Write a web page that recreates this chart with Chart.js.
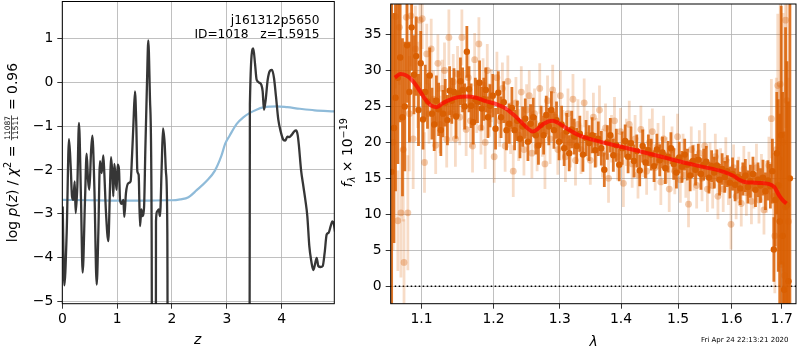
<!DOCTYPE html>
<html>
<head>
<meta charset="utf-8">
<script src="https://cdn.jsdelivr.net/npm/chart.js@4.4.0/dist/chart.umd.min.js"></script>
<style>
  html, body { margin: 0; padding: 0; background: #fff; }
  #wrap { position: relative; width: 800px; height: 350px; }
  canvas { position: absolute; top: 0; }
  #pz { left: 0; }
  #spec { left: 330px; }
</style>
</head>
<body>
<div id="wrap">
  <canvas id="pz" width="340" height="350"></canvas>
  <canvas id="spec" width="470" height="350"></canvas>
</div>
<script>
// ---- left panel: log p(z) and prior ----
const PZ_Z = [
  0.007, 0.037, 0.080, 0.122, 0.153, 0.177, 0.201, 0.226, 0.244, 0.274,
  0.304, 0.341, 0.371, 0.414, 0.444, 0.469, 0.493, 0.523, 0.548, 0.584,
  0.627, 0.657, 0.687, 0.718, 0.748, 0.766, 0.797, 0.839, 0.870, 0.888,
  0.912, 0.930, 0.949, 0.973, 0.991, 1.009, 1.034, 1.052, 1.082, 1.113,
  1.131, 1.161, 1.204, 1.246, 1.271, 1.295, 1.325, 1.350, 1.368, 1.392,
  1.417, 1.441, 1.459, 1.490, 1.514, 1.544, 1.568, 1.599, 1.629, 1.660,
  1.690, 1.708, 1.733, 1.757, 1.781, 1.812, 1.836, 1.866, 1.891, 1.915,
  1.945, 2.600, 3.390, 3.420, 3.482, 3.513, 3.544, 3.592, 3.629, 3.653,
  3.677, 3.708, 3.744, 3.787, 3.823, 3.860, 3.896, 3.939, 3.981, 4.030,
  4.066, 4.103, 4.139, 4.182, 4.230, 4.261, 4.291, 4.315, 4.352, 4.395,
  4.431, 4.467, 4.504, 4.540, 4.577, 4.607, 4.638, 4.668, 4.710, 4.747,
  4.783, 4.820, 4.856, 4.893, 4.923, 4.947, 4.972
];
const PZ_LOGP = [
  -2.83, -4.63, -3.43, -1.30, -1.92, -2.60, -2.68, -2.26, -2.98, -2.37,
  -0.93, -2.68, -4.34, -2.68, -1.63, -2.22, -2.45, -1.61, -1.22, -2.37,
  -4.61, -3.43, -1.80, -2.07, -1.67, -2.07, -2.98, -3.62, -2.37, -1.71,
  -2.07, -2.60, -1.86, -2.22, -2.45, -1.88, -1.99, -2.68, -2.77, -2.68,
  -3.07, -2.52, -2.30, -2.26, -1.69, -1.01, -0.21, -1.01, -2.03, -2.11,
  -3.28, -2.90, -3.05, -2.86, -1.54, -0.02, 0.95, -0.40, -3.43, -30,
  -30, -3.17, -2.94, -2.90, -3.05, -1.92, -1.05, -1.39, -2.07, -3.43,
  -30, -30, -30, -0.50, 0.77, 0.43, 0.05, -0.01, -0.06, -0.21,
  -0.63, -0.40, 0.05, 0.26, 0.28, 0.09, -0.33, -0.86, -1.12, -1.31,
  -1.33, -1.24, -1.25, -1.20, -1.12, -1.10, -1.20, -1.46, -1.99, -2.37,
  -2.68, -3.05, -3.74, -4.08, -4.28, -4.15, -4.00, -4.19, -4.21, -4.19,
  -3.89, -3.47, -3.43, -3.28, -3.17, -3.21, -3.40
];
const PRIOR_Z = [
  0, 0.5, 1.0, 1.5, 1.9, 2.0, 2.15, 2.3, 2.45, 2.63, 2.78, 2.9, 2.97,
  3.05, 3.18, 3.3, 3.42, 3.55, 3.66, 3.8, 3.91, 4.1, 4.33, 4.6, 4.96
];
const PRIOR_LOGP = [
  -2.68, -2.69, -2.70, -2.70, -2.69, -2.69, -2.67, -2.62, -2.46, -2.25, -2.02, -1.68, -1.40,
  -1.22, -0.95, -0.80, -0.70, -0.62, -0.575, -0.555, -0.55, -0.57, -0.605, -0.64, -0.665
];
const Z_TICKS = [0, 1, 2, 3, 4];
const LOGP_TICKS = [-5, -4, -3, -2, -1, 0, 1];

// ---- right panel: spectrum ----
const LAM_TICKS = [1.1, 1.2, 1.3, 1.4, 1.5, 1.6, 1.7];
const FLUX_TICKS = [0, 5, 10, 15, 20, 25, 30, 35];
const LAM_MIN = 1.0598;
const LAM_MAX = 1.7297;

const LAM_DARK = [
  1.061, 1.064, 1.066, 1.069, 1.072, 1.075, 1.078, 1.081, 1.084, 1.087, 1.090, 1.093, 1.096, 1.099,
  1.102, 1.105, 1.108, 1.111, 1.114, 1.117, 1.120, 1.123, 1.126, 1.129,
  1.132, 1.135, 1.138, 1.141, 1.144, 1.147, 1.150, 1.153, 1.156, 1.159,
  1.162, 1.165, 1.168, 1.171, 1.174, 1.177, 1.180, 1.183, 1.186, 1.189,
  1.192, 1.195,
  1.199, 1.203, 1.207, 1.211, 1.215, 1.219, 1.223, 1.227, 1.231, 1.235, 1.239, 1.243, 1.247,
  1.251, 1.255, 1.259, 1.263, 1.267, 1.271, 1.275, 1.279, 1.283, 1.287,
  1.291, 1.295, 1.299, 1.303, 1.307, 1.311, 1.315, 1.319, 1.323, 1.327,
  1.332, 1.337, 1.342, 1.347, 1.352, 1.357, 1.362, 1.367, 1.372, 1.377,
  1.382, 1.387, 1.392, 1.397, 1.402, 1.407, 1.412, 1.417, 1.422, 1.427,
  1.432, 1.437, 1.442, 1.447,
  1.452, 1.457, 1.462, 1.467, 1.472, 1.477, 1.482, 1.487, 1.492, 1.497,
  1.502, 1.507, 1.512, 1.517, 1.522, 1.527, 1.532, 1.537, 1.542, 1.547,
  1.552, 1.557, 1.562, 1.567, 1.572, 1.577, 1.582, 1.587, 1.592, 1.597,
  1.602, 1.607, 1.612, 1.617, 1.622, 1.627, 1.632, 1.637, 1.642, 1.647,
  1.652, 1.657, 1.662, 1.667, 1.672, 1.677,
  1.681, 1.684, 1.687, 1.690, 1.693, 1.696, 1.699, 1.702, 1.705, 1.708, 1.711, 1.714, 1.717
];
const FLUX_DARK = [
  15.9, 22.0, 26.2, 29.0, 31.8, 23.5, 25.0, 33.5, 27.0, 36.0, 29.4, 32.0, 24.5, 31.0,
  23.2, 27.0, 25.7, 29.3, 24.0, 22.5, 25.8, 24.6, 21.7, 24.0,
  25.5, 23.1, 27.2, 25.8, 27.0, 23.6, 26.8, 28.5, 27.3, 25.0,
  32.6, 27.4, 25.1, 22.8, 26.0, 25.7, 28.3, 24.7, 26.0, 27.3,
  23.5, 25.1,
  26.5, 21.9, 26.9, 23.5, 25.6, 21.7, 22.6, 24.8, 21.7, 23.0, 20.5, 22.2, 23.3,
  20.1, 22.6, 23.5, 21.0, 19.6, 22.4, 21.0, 23.8, 22.2, 24.5,
  21.7, 23.1, 20.1, 22.5, 19.2, 21.5, 18.5, 21.8, 20.8, 19.5,
  21.2, 18.3, 20.6, 19.9, 21.0, 18.9, 20.5, 19.2, 16.2, 20.0,
  21.0, 18.2, 19.6, 16.9, 19.2, 20.2, 18.0, 19.9, 17.4, 18.8,
  16.1, 19.5, 17.2, 18.9,
  18.3, 16.7, 19.0, 17.5, 18.6, 16.4, 18.0, 19.2, 17.0, 15.8,
  17.9, 16.6, 18.3, 16.9, 15.4, 17.4, 16.2, 17.6, 15.6, 16.9,
  17.3, 15.1, 16.7, 15.8, 16.8, 14.8, 16.3, 15.2, 16.0, 14.4,
  15.6, 14.1, 15.2, 13.6, 14.9, 15.4, 13.8, 14.6, 15.6, 13.4,
  14.8, 14.0, 15.1, 13.2, 14.7, 13.9,
  16.0, 5.1, 12.0, 18.5, 14.0, 9.0, 21.0, 7.0, -0.5, 11.0, 11.3, 0.7, 15.0
];
const ERR_DARK = [
  24, 16, 13, 12, 9, 11, 9, 8, 7, 6, 5.5, 5.5, 5, 4.5,
  4.2, 3.8, 3.8, 3.9, 3.6, 3.7, 3.5, 3.7, 3.6, 3.3,
  3.3, 3.5, 3.4, 3.2, 3.3, 3.1, 3.2, 3.3, 3.1, 3.2,
  3.6, 3.2, 3.1, 3.1, 3.0, 3.0, 3.1, 3.0, 3.0, 3.1,
  2.9, 3.0,
  3.0, 2.9, 3.0, 2.9, 2.9, 2.8, 2.8, 2.9, 2.8, 2.8, 2.7, 2.8, 2.8,
  2.7, 2.7, 2.7, 2.7, 2.7, 2.7, 2.7, 2.7, 2.6, 2.6,
  2.6, 2.6, 2.6, 2.6, 2.5, 2.6, 2.5, 2.6, 2.5, 2.5,
  2.5, 2.4, 2.5, 2.5, 2.5, 2.4, 2.4, 2.4, 2.4, 2.4,
  2.4, 2.3, 2.3, 2.3, 2.3, 2.3, 2.3, 2.3, 2.3, 2.3,
  2.2, 2.3, 2.2, 2.2,
  2.2, 2.2, 2.2, 2.2, 2.2, 2.2, 2.2, 2.2, 2.2, 2.2,
  2.2, 2.2, 2.2, 2.2, 2.2, 2.2, 2.2, 2.2, 2.2, 2.2,
  2.2, 2.2, 2.2, 2.2, 2.2, 2.2, 2.2, 2.2, 2.2, 2.2,
  2.3, 2.3, 2.3, 2.3, 2.3, 2.3, 2.3, 2.3, 2.4, 2.4,
  2.4, 2.4, 2.5, 2.6, 2.8, 3.1,
  4.5, 4.5, 6.5, 8.5, 12, 15, 18, 20, 22, 25, 20, 25, 30
];

const LAM_LIGHT = [
  1.063, 1.066, 1.069, 1.071, 1.073, 1.076, 1.077, 1.080, 1.082, 1.084, 1.086, 1.089, 1.092, 1.095, 1.098,
  1.101, 1.104, 1.107, 1.110, 1.113, 1.116, 1.119, 1.122, 1.125, 1.128,
  1.131, 1.134, 1.137, 1.140, 1.143, 1.146, 1.149, 1.152, 1.155, 1.158,
  1.161, 1.164, 1.167, 1.170, 1.173, 1.176, 1.179, 1.182, 1.185, 1.188,
  1.191, 1.194, 1.197,
  1.201, 1.205, 1.209, 1.213, 1.217, 1.221, 1.225, 1.229, 1.233, 1.237, 1.241, 1.245, 1.249,
  1.253, 1.257, 1.261, 1.265, 1.269, 1.273, 1.277, 1.281, 1.285, 1.289,
  1.293, 1.297, 1.301, 1.305, 1.309, 1.313, 1.317, 1.321, 1.325, 1.329,
  1.334, 1.339, 1.344, 1.349, 1.354, 1.359, 1.364, 1.369, 1.374, 1.379,
  1.384, 1.389, 1.394, 1.399, 1.404, 1.409, 1.414, 1.419, 1.424, 1.429,
  1.434, 1.439, 1.444, 1.449,
  1.454, 1.459, 1.464, 1.469, 1.474, 1.479, 1.484, 1.489, 1.494, 1.499,
  1.504, 1.509, 1.514, 1.519, 1.524, 1.529, 1.534, 1.539, 1.544, 1.549,
  1.554, 1.559, 1.564, 1.569, 1.574, 1.579, 1.584, 1.589, 1.594, 1.599,
  1.604, 1.609, 1.614, 1.619, 1.624, 1.629, 1.634, 1.639, 1.644, 1.649,
  1.654, 1.659, 1.664, 1.669, 1.674, 1.679,
  1.683, 1.686, 1.689, 1.692, 1.695, 1.697, 1.700, 1.703, 1.706, 1.708, 1.711, 1.714
];
const FLUX_LIGHT = [
  20.0, 37.5, 9.1, 36.0, 10.2, 19.0, 3.3, 37.4, 10.2, 24.0, 37.6, 20.5, 33.0, 28.0, 37.0,
  37.2, 17.2, 32.3, 24.0, 33.0, 26.0, 19.6, 31.0, 22.5, 27.5,
  30.0, 20.4, 34.6, 24.0, 28.4, 20.5, 29.5, 23.5, 34.6, 26.0,
  21.8, 29.0, 23.0, 19.5, 31.5, 25.0, 33.7, 22.0, 28.0, 20.0,
  30.0, 24.5, 26.5,
  18.0, 29.0, 23.0, 27.5, 19.5, 28.5, 22.0, 16.0, 25.5, 21.0, 27.0, 19.0, 24.5,
  26.5, 18.5, 24.0, 19.5, 27.5, 21.5, 17.0, 25.8, 20.5, 27.3,
  23.5, 19.0, 26.5, 21.0, 18.0, 24.0, 20.0, 26.0, 17.5, 22.5,
  19.0, 25.5, 21.0, 17.5, 23.5, 20.0, 24.5, 18.5, 22.0, 15.0,
  20.5, 23.0, 18.0, 21.5, 14.3, 20.0, 22.5, 17.0, 20.5, 15.5,
  21.8, 18.5, 16.0, 20.0,
  21.5, 16.5, 19.5, 14.5, 20.5, 17.5, 13.5, 19.0, 16.0, 20.8,
  14.8, 18.0, 15.5, 11.4, 19.0, 16.5, 14.0, 18.5, 15.0, 19.5,
  13.5, 16.8, 14.0, 18.0, 12.5, 16.0, 13.5, 17.5, 14.5, 8.6,
  16.5, 12.5, 14.8, 11.5, 16.3, 13.0, 15.5, 11.8, 14.0, 16.5,
  12.0, 15.0, 10.6, 13.8, 16.8, 23.3,
  12.5, 7.0, 19.0, 27.9, 14.0, 28.1, 3.0, 20.0, 1.5, 37.0, 25.8, 9.0
];
const ERR_LIGHT = [
  15, 10, 7, 8, 9, 10, 6, 8, 8, 8, 7, 7, 6, 6, 6,
  4.2, 4.2, 4.2, 4.2, 4.2, 4.0, 4.0, 4.0, 4.0, 4.0,
  3.9, 3.9, 3.9, 3.9, 3.9, 3.9, 3.9, 3.9, 3.9, 3.9,
  3.7, 3.7, 3.7, 3.7, 3.7, 3.7, 3.7, 3.7, 3.7, 3.7,
  3.7, 3.7, 3.7,
  3.6, 3.6, 3.6, 3.6, 3.6, 3.6, 3.6, 3.6, 3.6, 3.6, 3.6, 3.6, 3.6,
  3.5, 3.5, 3.5, 3.5, 3.5, 3.5, 3.5, 3.5, 3.5, 3.5,
  3.5, 3.5, 3.5, 3.5, 3.5, 3.5, 3.5, 3.5, 3.5, 3.5,
  3.4, 3.4, 3.4, 3.4, 3.4, 3.4, 3.4, 3.4, 3.4, 3.4,
  3.3, 3.3, 3.3, 3.3, 3.3, 3.3, 3.3, 3.3, 3.3, 3.3,
  3.3, 3.3, 3.3, 3.3,
  3.2, 3.2, 3.2, 3.2, 3.2, 3.2, 3.2, 3.2, 3.2, 3.2,
  3.2, 3.2, 3.2, 3.2, 3.2, 3.2, 3.2, 3.2, 3.2, 3.2,
  3.2, 3.2, 3.2, 3.2, 3.2, 3.2, 3.2, 3.2, 3.2, 3.5,
  3.2, 3.2, 3.2, 3.2, 3.2, 3.2, 3.2, 3.2, 3.2, 3.3,
  3.3, 3.4, 3.4, 3.6, 4.0, 5.5,
  6, 8, 10, 10, 14, 12, 15, 18, 18, 15, 18, 20
];

const MODEL_LAM = [
  1.065, 1.072, 1.080, 1.088, 1.095, 1.105, 1.113, 1.120, 1.128, 1.138,
  1.150, 1.162, 1.175, 1.190, 1.205, 1.218, 1.230, 1.240, 1.250, 1.258,
  1.265, 1.275, 1.288, 1.298, 1.310, 1.330, 1.360, 1.400, 1.435, 1.470,
  1.505, 1.545, 1.580, 1.605, 1.615, 1.628, 1.645, 1.660, 1.675, 1.685,
  1.695, 1.703, 1.710
];
const MODEL_FLUX = [
  29.0, 29.5, 29.3, 28.6, 27.6, 26.0, 25.1, 24.9, 25.4, 25.9,
  26.3, 26.4, 26.2, 25.7, 25.3, 24.7, 23.8, 22.9, 22.0, 21.5,
  21.8, 22.6, 23.0, 22.7, 22.0, 21.0, 20.2, 19.4, 18.7, 18.0,
  17.3, 16.6, 16.0, 15.3, 14.8, 14.45, 14.4, 14.35, 14.2, 13.8,
  12.6, 11.9, 11.5
];

// ---- shared styling ----
const FONT = '"DejaVu Sans", sans-serif';
Chart.defaults.font.family = FONT;
Chart.defaults.font.size = 13.9;
Chart.defaults.color = "#000";

const GRID = { color: "#b0b0b0", lineWidth: 0.8, tickColor: "#000", tickLength: 5, tickWidth: 0.8 };
const ORANGE = "#d95f02";

const points = (xs, ys) => xs.map((x, i) => ({ x, y: ys[i] }));
const fixedTicks = (vals) => (scale) => { scale.ticks = vals.map((v) => ({ value: v })); };
const fitY = (w) => (scale) => { scale.width = w; scale.paddingTop = 0; scale.paddingBottom = 0; };
const fitX = (h) => (scale) => { scale.height = h; scale.paddingLeft = 0; scale.paddingRight = 0; };
const minus = (v) => (v < 0 ? "\u2212" + Math.abs(v) : String(v));
const font = (size, italic) => `${italic ? "italic " : ""}${size}px ${FONT}`;

// text runs with sub/superscripts and a stacked fraction
function runWidth(ctx, parts) {
  let w = 0;
  for (const p of parts) {
    ctx.font = font(p.size, p.italic);
    w += p.num
      ? Math.max(ctx.measureText(p.num).width, ctx.measureText(p.den).width) + 3
      : ctx.measureText(p.t).width;
  }
  return w;
}

function drawVertical(ctx, parts, cx, cy) {
  ctx.save();
  ctx.translate(cx, cy);
  ctx.rotate(-Math.PI / 2);
  ctx.fillStyle = "#000";
  ctx.textBaseline = "alphabetic";
  let x = -runWidth(ctx, parts) / 2;
  for (const p of parts) {
    ctx.font = font(p.size, p.italic);
    if (p.num) {
      const w = Math.max(ctx.measureText(p.num).width, ctx.measureText(p.den).width) + 3;
      ctx.textAlign = "center";
      ctx.fillText(p.num, x + w / 2, -6.6);
      ctx.fillText(p.den, x + w / 2, 1.6);
      ctx.fillRect(x + 1, -5.3, w - 2, 0.7);
      x += w;
    } else {
      ctx.textAlign = "left";
      ctx.fillText(p.t, x, p.dy || 0);
      x += ctx.measureText(p.t).width;
    }
  }
  ctx.restore();
}

const frame = {
  id: "frame",
  afterDraw(chart) {
    const { ctx, chartArea: a } = chart;
    ctx.save();
    ctx.strokeStyle = "#000";
    ctx.lineWidth = 1;
    ctx.strokeRect(a.left, a.top, a.right - a.left, a.bottom - a.top);
    ctx.restore();
  },
};

// vertical error bars, drawn just under each dataset's markers
const errorBars = {
  id: "errorBars",
  beforeDatasetDraw(chart, args) {
    const ds = chart.data.datasets[args.index];
    if (!ds.yErr) return;
    const { ctx, chartArea: a, scales: { x, y } } = chart;
    ctx.save();
    ctx.beginPath();
    ctx.rect(a.left, a.top, a.right - a.left, a.bottom - a.top);
    ctx.clip();
    ctx.strokeStyle = ds.errColor;
    ctx.lineWidth = ds.errWidth;
    ds.data.forEach((p, i) => {
      const px = x.getPixelForValue(p.x);
      ctx.beginPath();
      ctx.moveTo(px, y.getPixelForValue(p.y - ds.yErr[i]));
      ctx.lineTo(px, y.getPixelForValue(p.y + ds.yErr[i]));
      ctx.stroke();
    });
    ctx.restore();
  },
};

const pzLabels = {
  id: "pzLabels",
  afterDraw(chart) {
    const { ctx } = chart;
    ctx.save();
    ctx.fillStyle = "#000";
    ctx.textAlign = "right";
    ctx.textBaseline = "alphabetic";
    ctx.font = font(12.2, false);
    ctx.fillText("j161312p5650", 319.5, 24.3);
    ctx.fillText("ID=1018   z=1.5915", 319.5, 38.3);
    ctx.textAlign = "center";
    ctx.font = font(13.9, true);
    ctx.fillText("z", 197.7, 343.5);
    ctx.restore();
    drawVertical(ctx, [
      { t: "log ", size: 13.9 },
      { t: "p", size: 13.9, italic: true },
      { t: "(", size: 13.9 },
      { t: "z", size: 13.9, italic: true },
      { t: ") / ", size: 13.9 },
      { t: "\u03c7", size: 13.9, italic: true },
      { t: "2", size: 9.7, dy: -5.5 },
      { t: " = ", size: 13.9 },
      { num: "11087", den: "11511", size: 7.5 },
      { t: " = 0.96", size: 13.9 },
    ], 16.5, 152.6);
  },
};

const specLabels = {
  id: "specLabels",
  afterDraw(chart) {
    const { ctx } = chart;
    ctx.save();
    ctx.fillStyle = "#000";
    ctx.textAlign = "center";
    ctx.textBaseline = "alphabetic";
    ctx.font = font(13.9, true);
    ctx.fillText("\u03bb", 263.5, 346);
    ctx.textAlign = "left";
    ctx.font = font(7, false);
    ctx.fillText("Fri Apr 24 22:13:21 2020", 371, 341.7);
    ctx.restore();
    drawVertical(ctx, [
      { t: "f", size: 13.9, italic: true },
      { t: "\u03bb", size: 9.7, italic: true, dy: 3 },
      { t: " \u00d7 10", size: 13.9 },
      { t: "\u221219", size: 9.7, dy: -5.5 },
    ], 22, 152.6);
  },
};

new Chart(document.getElementById("pz"), {
  type: "line",
  data: {
    datasets: [
      {
        label: "log p(z)",
        data: points(PZ_Z, PZ_LOGP),
        borderColor: "#363636",
        borderWidth: 2.3,
        pointRadius: 0,
        cubicInterpolationMode: "monotone",
        clip: 0,
        order: 0,
      },
      {
        label: "prior",
        data: points(PRIOR_Z, PRIOR_LOGP),
        borderColor: "#8fbbd9",
        borderWidth: 2.2,
        pointRadius: 0,
        cubicInterpolationMode: "monotone",
        clip: 0,
        order: 1,
      },
    ],
  },
  options: {
    responsive: false,
    animation: false,
    events: [],
    layout: { padding: { left: 0, right: 5.7, top: 1.5, bottom: 0 } },
    plugins: { legend: { display: false }, tooltip: { enabled: false } },
    scales: {
      x: {
        type: "linear", min: 0, max: 4.959, bounds: "data",
        afterBuildTicks: fixedTicks(Z_TICKS), afterFit: fitX(46.3),
        grid: GRID, border: { display: false },
        ticks: { padding: 2, maxRotation: 0, autoSkip: false, callback: minus },
      },
      y: {
        type: "linear", min: -5.046, max: 1.838, bounds: "data",
        afterBuildTicks: fixedTicks(LOGP_TICKS), afterFit: fitY(62.3),
        grid: GRID, border: { display: false },
        ticks: { padding: 4, autoSkip: false, callback: minus },
      },
    },
  },
  plugins: [frame, pzLabels],
});

new Chart(document.getElementById("spec"), {
  type: "scatter",
  data: {
    datasets: [
      {
        type: "line",
        label: "model",
        data: points(MODEL_LAM, MODEL_FLUX),
        borderColor: "rgba(255,0,0,0.7)",
        borderWidth: 4,
        pointRadius: 0,
        cubicInterpolationMode: "monotone",
        clip: 0,
        order: 0,
      },
      {
        label: "flux",
        data: points(LAM_DARK, FLUX_DARK),
        yErr: ERR_DARK,
        errColor: "rgba(217,95,2,0.85)",
        errWidth: 2.8,
        pointRadius: 3.2,
        pointBorderWidth: 0,
        pointBackgroundColor: ORANGE,
        clip: 0,
        order: 1,
      },
      {
        label: "flux (other)",
        data: points(LAM_LIGHT, FLUX_LIGHT),
        yErr: ERR_LIGHT,
        errColor: "rgba(217,95,2,0.22)",
        errWidth: 2.8,
        pointRadius: 3.4,
        pointBorderWidth: 0,
        pointBackgroundColor: "rgba(217,95,2,0.33)",
        clip: 0,
        order: 2,
      },
      {
        type: "line",
        label: "zero",
        data: points([LAM_MIN, LAM_MAX], [0, 0]),
        borderColor: "#000",
        borderWidth: 1.5,
        borderDash: [1.5, 2.5],
        pointRadius: 0,
        clip: 0,
        order: 3,
      },
    ],
  },
  options: {
    responsive: false,
    animation: false,
    events: [],
    layout: { padding: { left: 0, right: 1.3, top: 1.5, bottom: 0 } },
    plugins: { legend: { display: false }, tooltip: { enabled: false } },
    scales: {
      x: {
        type: "logarithmic", min: LAM_MIN, max: LAM_MAX, bounds: "data",
        afterBuildTicks: fixedTicks(LAM_TICKS), afterFit: fitX(46.3),
        grid: GRID, border: { display: false },
        ticks: { padding: 2, maxRotation: 0, autoSkip: false, callback: (v) => v.toFixed(1) },
      },
      y: {
        type: "linear", min: -2.44, max: 39.25, bounds: "data",
        afterBuildTicks: fixedTicks(FLUX_TICKS), afterFit: fitY(60.7),
        grid: GRID, border: { display: false },
        ticks: { padding: 4, autoSkip: false, callback: minus },
      },
    },
  },
  plugins: [frame, errorBars, specLabels],
});
</script>
</body>
</html>
